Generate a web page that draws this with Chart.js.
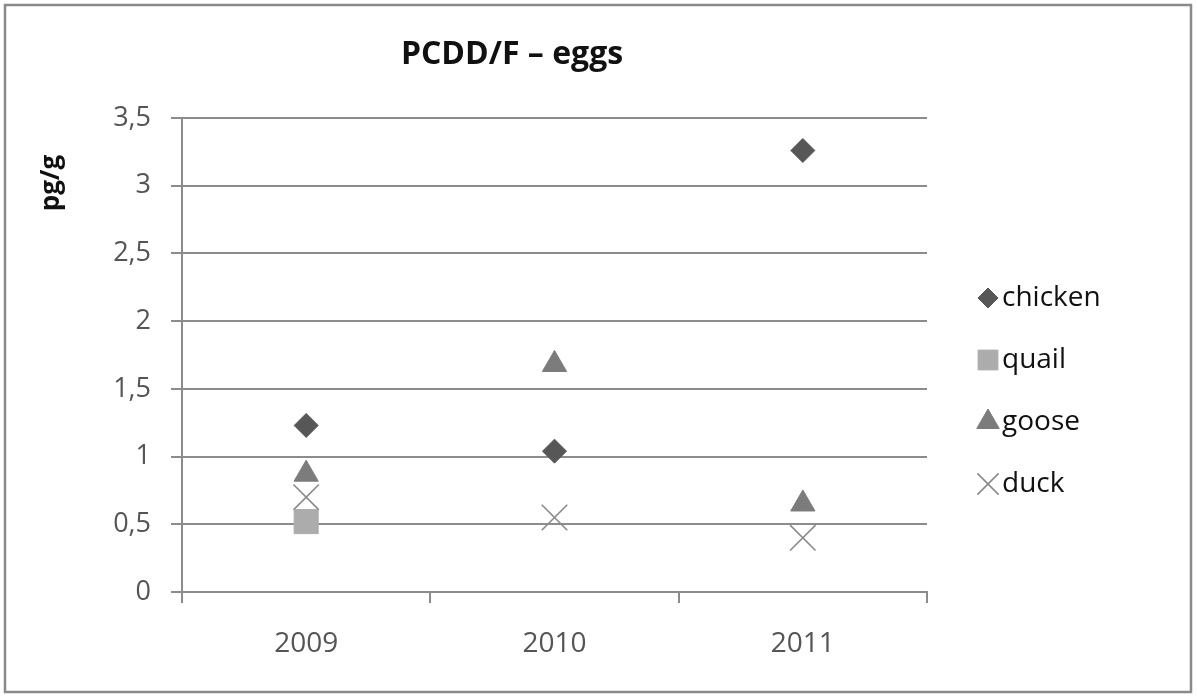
<!DOCTYPE html>
<html>
<head>
<meta charset="utf-8">
<script src="https://cdn.jsdelivr.net/npm/chart.js@4"></script>
<style>
  html, body { margin: 0; padding: 0; background: #ffffff; }
  #wrap { width: 1197px; height: 698px; }
  canvas { display: block; }
</style>
</head>
<body>
<div id="wrap"><canvas id="c" width="1197" height="698"></canvas></div>
<script>
// Sampling years and PCDD/F levels in eggs (pg/g)
const years = ['2009', '2010', '2011'];
const chicken = [1.23, 1.04, 3.26];
const quail = [0.52, null, null];
const goose = [0.87, 1.68, 0.65];
const duck = [0.70, 0.55, 0.40];
const yTickValues = [0, 0.5, 1, 1.5, 2, 2.5, 3, 3.5];

const chartTitle = 'PCDD/F \u2013 eggs';
const yAxisTitle = 'pg/g';

const FONT = '"Open Sans", "Liberation Sans", sans-serif';
const GRID = '#8c8c8c';

const datasets = [
  { label: 'chicken', data: chicken, pointStyle: 'rectRot', pointRadius: 12,
    backgroundColor: '#575757', borderColor: '#575757', pointBorderWidth: 1, legendRadius: 10 },
  { label: 'quail', data: quail, pointStyle: 'rect', pointRadius: 17,
    backgroundColor: '#acacac', borderColor: '#acacac', pointBorderWidth: 1, legendRadius: 14 },
  { label: 'goose', data: goose, pointStyle: 'triangle', pointRadius: 14,
    backgroundColor: '#7c7c7c', borderColor: '#7c7c7c', pointBorderWidth: 1, legendRadius: 13 },
  { label: 'duck', data: duck, pointStyle: 'crossRot', pointRadius: 18,
    backgroundColor: '#8a8a8a', borderColor: '#8a8a8a', pointBorderWidth: 1.6, legendRadius: 15 }
].map(d => Object.assign({ showLine: false, pointHoverRadius: d.pointRadius }, d));

// Frame, titles and the legend column on the right
const decor = {
  id: 'decor',
  beforeDraw(chart) {
    const ctx = chart.ctx;
    ctx.save();
    ctx.fillStyle = '#ffffff';
    ctx.fillRect(0, 0, chart.width, chart.height);
    ctx.strokeStyle = '#8a8a8a';
    ctx.lineWidth = 2.5;
    ctx.strokeRect(5, 5, chart.width - 11, chart.height - 11);
    ctx.restore();
  },
  afterDraw(chart) {
    const ctx = chart.ctx;
    ctx.save();
    ctx.fillStyle = '#111111';
    ctx.font = 'bold 32px ' + FONT;
    ctx.textAlign = 'center';
    ctx.textBaseline = 'middle';
    ctx.fillText(chartTitle, 512, 55);

    ctx.translate(52, 183);
    ctx.rotate(-Math.PI / 2);
    ctx.font = 'bold 26px ' + FONT;
    ctx.fillText(yAxisTitle, 0, 0);
    ctx.restore();

    ctx.save();
    const rowY = [298, 360, 422, 484];
    chart.data.datasets.forEach((ds, i) => {
      const y = rowY[i];
      ctx.fillStyle = ds.backgroundColor;
      ctx.strokeStyle = ds.borderColor;
      ctx.lineWidth = ds.pointBorderWidth;
      Chart.helpers.drawPoint(ctx, {
        pointStyle: ds.pointStyle,
        radius: ds.legendRadius,
        borderWidth: ds.pointBorderWidth,
        rotation: 0
      }, 988, y);
      ctx.fillStyle = '#111111';
      ctx.font = '28px ' + FONT;
      ctx.textAlign = 'left';
      ctx.textBaseline = 'middle';
      ctx.fillText(ds.label, 1002, y);
    });
    ctx.restore();
  }
};

new Chart(document.getElementById('c'), {
  type: 'line',
  data: { labels: years, datasets: datasets },
  options: {
    responsive: false,
    animation: false,
    layout: { padding: { left: 100, right: 270, top: 118, bottom: 26 } },
    plugins: {
      legend: { display: false },
      title: { display: false },
      tooltip: { enabled: false }
    },
    scales: {
      x: {
        type: 'category',
        offset: true,
        afterFit(scale) { scale.height = 80; },
        grid: { display: true, drawOnChartArea: false, offset: true,
                color: GRID, lineWidth: 2, tickLength: 11 },
        border: { display: true, color: GRID, width: 2 },
        ticks: { color: '#555555', font: { family: FONT, size: 28 }, padding: 24 }
      },
      y: {
        min: 0,
        max: 3.5,
        afterFit(scale) { scale.width = 82; },
        afterBuildTicks(scale) { scale.ticks = yTickValues.map(v => ({ value: v })); },
        grid: { color: GRID, lineWidth: 2, tickLength: 11 },
        border: { display: true, color: GRID, width: 2 },
        ticks: {
          color: '#555555',
          font: { family: FONT, size: 27 },
          padding: 20,
          callback: v => String(v).replace('.', ',')
        }
      }
    }
  },
  plugins: [decor]
});
</script>
</body>
</html>
